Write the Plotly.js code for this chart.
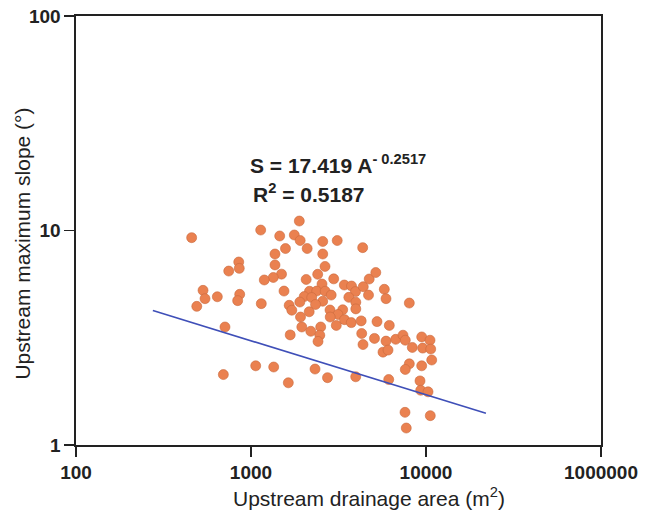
<!DOCTYPE html>
<html>
<head>
<meta charset="utf-8">
<script src="https://cdn.plot.ly/plotly-3.0.1.min.js"></script>
<style>html,body{margin:0;padding:0;background:#fff;}#chart{width:645px;height:511px;}</style>
</head>
<body>
<div id="chart"></div>
<script>
// Upstream drainage area (m2) of each sample
const areaM2 = [458,1136,1888,1459,1768,1910,2094,1574,2570,3109,
  1371,2570,851,857,746,1371,2648,1494,1341,1191,
  2405,2067,2545,2969,3413,3752,3955,532,546,642,
  862,839,490,1145,1544,2159,2374,2655,2872,2014,
  2223,2569,1901,2337,3623,3971,1653,1711,2150,2828,
  3342,3971,3141,2836,1918,3422,3742,3072,1951,2502,
  2197,2473,2415,1675,710,1064,1348,2322,2736,695,
  1634,3966,4347,4382,4737,5165,4693,5777,5908,8028,
  4262,4291,4365,5248,6170,5077,5908,6713,7389,7614,
  8351,9449,10540,9574,10640,10780,5680,6066,8028,7614,
  9449,9241,9327,10270,6122,7586,10580,7715];
// Upstream maximum slope (degrees) of each sample
const slopeDeg = [9.26,10.05,11.07,9.43,9.53,8.98,8.24,8.24,8.89,8.98,
  7.77,7.77,7.13,6.66,6.47,6.91,6.80,6.26,6.04,5.88,
  6.25,5.91,5.63,5.95,5.57,5.51,5.19,5.26,4.81,4.91,
  5.04,4.71,4.43,4.56,5.22,5.21,5.22,5.21,5.00,4.92,
  4.87,4.68,4.64,4.52,4.88,4.63,4.48,4.25,4.18,4.26,
  4.27,4.31,4.06,3.95,3.95,3.84,3.72,3.61,3.55,3.55,
  3.39,3.25,3.04,3.26,3.55,2.34,2.31,2.26,2.06,2.13,
  1.95,2.08,8.32,5.47,5.94,6.37,5.00,5.32,4.81,4.59,
  3.79,3.31,2.94,3.76,3.61,3.14,3.05,3.11,3.25,3.08,
  2.85,3.19,3.08,2.83,2.80,2.49,2.71,2.77,2.39,2.25,
  2.34,1.99,1.80,1.77,2.02,1.42,1.37,1.20];
// Power-law fit S = a * A^b, drawn across this area range
const fitCoef = 17.419;
const fitExp = -0.2517;
const fitR2 = 0.5187;
const fitArea = [275, 22000];
// Axis ticks
const xTickVals = [100, 1000, 10000, 100000];
const xTickText = ['100', '1000', '10000', '1000000'];
const yTickVals = [1, 10, 100];
const yTickText = ['1', '10', '100'];

const fitSlope = fitArea.map(a => fitCoef * Math.pow(a, fitExp));
const FONT = 'Arial, "Liberation Sans", Helvetica, sans-serif';
const INK = '#222222';

const traces = [
  {
    x: areaM2, y: slopeDeg, type: 'scatter', mode: 'markers',
    marker: {size: 10, color: '#EA8150', line: {color: '#C96A3E', width: 0.6}},
    hoverinfo: 'x+y', showlegend: false
  },
  {
    x: fitArea, y: fitSlope, type: 'scatter', mode: 'lines',
    line: {color: '#3F4FB8', width: 1.6}, showlegend: false, hoverinfo: 'skip'
  }
];

const axisCommon = {
  type: 'log', showgrid: false, zeroline: false,
  showline: true, linecolor: INK, linewidth: 1.6, mirror: true,
  ticks: 'outside', ticklen: 10, tickwidth: 1.5, tickcolor: INK,
  tickfont: {family: FONT, size: 19, color: INK, weight: 700}
};

const layout = {
  width: 645, height: 511,
  margin: {l: 76, r: 44, t: 16, b: 66},
  paper_bgcolor: '#ffffff', plot_bgcolor: '#ffffff',
  font: {family: FONT, color: INK},
  xaxis: Object.assign({}, axisCommon, {
    range: [2, 5], tickmode: 'array', tickvals: xTickVals, ticktext: xTickText
  }),
  yaxis: Object.assign({}, axisCommon, {
    range: [0, 2], tickmode: 'array', tickvals: yTickVals, ticktext: yTickText
  }),
  annotations: [
    {xref: 'paper', yref: 'paper', x: 0.3276, y: 0.655, xanchor: 'left', yanchor: 'middle',
     showarrow: false, text: 'S = ' + fitCoef.toFixed(3) + ' A<sup>- ' + Math.abs(fitExp).toFixed(4) + '</sup>',
     font: {family: FONT, size: 21, color: INK, weight: 700}},
    {xref: 'paper', yref: 'paper', x: 0.3333, y: 0.5867, xanchor: 'left', yanchor: 'middle',
     showarrow: false, text: 'R<sup>2</sup> = ' + fitR2.toFixed(4),
     font: {family: FONT, size: 21, color: INK, weight: 700}},
    {xref: 'paper', yref: 'paper', x: 0.558, y: -0.1212, xanchor: 'center', yanchor: 'middle',
     showarrow: false, text: 'Upstream drainage area (m<sup>2</sup>)',
     font: {family: FONT, size: 21, color: INK}},
    {xref: 'paper', yref: 'paper', x: -0.1036, y: 0.4685, xanchor: 'center', yanchor: 'middle',
     textangle: -90, showarrow: false, text: 'Upstream maximum slope (°)',
     font: {family: FONT, size: 21, color: INK}}
  ]
};

Plotly.newPlot('chart', traces, layout, {displayModeBar: false, staticPlot: true});
</script>
</body>
</html>
